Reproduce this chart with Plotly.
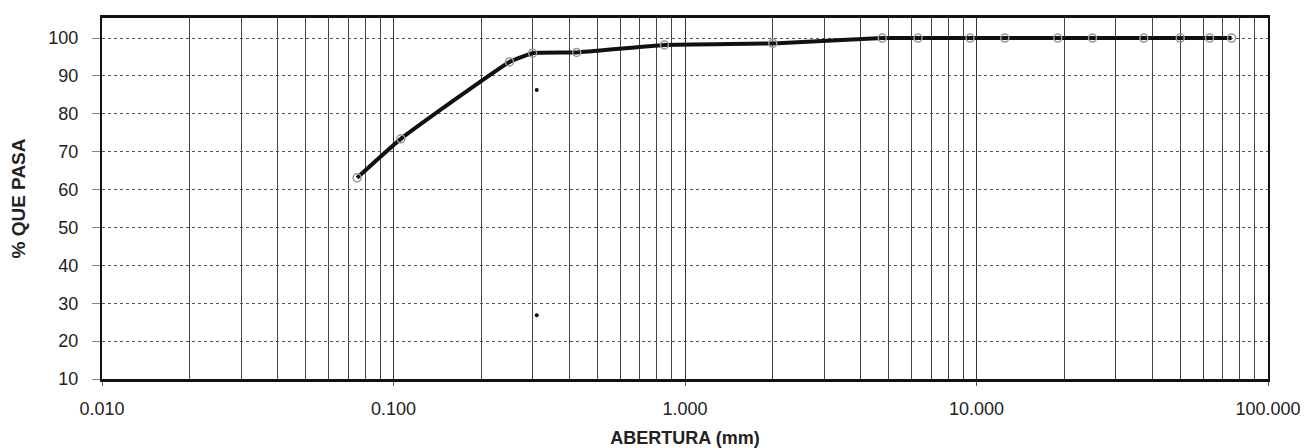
import plotly.graph_objects as go

# Data: sieve openings (mm) and percent passing
abertura = [0.075, 0.106, 0.25, 0.30, 0.425, 0.85, 2.0, 4.75, 6.3, 9.5, 12.5, 19.0, 25.0, 37.5, 50.0, 63.0, 75.0]
pct_pasa = [63.1, 73.4, 93.7, 96.0, 96.2, 98.2, 98.6, 100, 100, 100, 100, 100, 100, 100, 100, 100, 100]

# stray dots on the chart
dots_x = [0.31, 0.31]
dots_y = [86.3, 26.8]

x_ticks = [0.01, 0.1, 1, 10, 100]
x_ticklabels = ["0.010", "0.100", "1.000", "10.000", "100.000"]
y_ticks = [10, 20, 30, 40, 50, 60, 70, 80, 90, 100]

minor_vals = [m * 10.0 ** e for e in range(-2, 2) for m in range(2, 10)]

fig = go.Figure()
fig.add_trace(go.Scatter(
    x=abertura, y=pct_pasa, mode="lines+markers",
    line=dict(color="#111111", width=4, shape="spline", smoothing=0.4),
    marker=dict(symbol="circle-open", size=8, color="#999999", line=dict(width=1.5, color="#999999")),
    showlegend=False,
))
fig.add_trace(go.Scatter(
    x=dots_x, y=dots_y, mode="markers",
    marker=dict(symbol="circle", size=4, color="#111111"),
    showlegend=False,
))

font = dict(family="Liberation Sans, Arial, sans-serif", size=18, color="#222222")

fig.update_layout(
    width=1313, height=448,
    margin=dict(l=93, r=53, t=7, b=77),
    paper_bgcolor="white", plot_bgcolor="white",
    font=font,
    xaxis=dict(
        type="log", range=[-2, 2],
        tickvals=x_ticks, ticktext=x_ticklabels,
        showgrid=True, gridcolor="#333333", gridwidth=1,
        minor=dict(tickvals=minor_vals, showgrid=True, gridcolor="#444444", gridwidth=1, ticks=""),
        showline=True, linecolor="#111111", linewidth=2.5, mirror=True,
        ticks="outside", ticklen=4, tickcolor="#555555",
        ticklabelstandoff=8,
        title=dict(text="<b>ABERTURA (mm)</b>", font=dict(size=18), standoff=14),
        zeroline=False,
    ),
    yaxis=dict(
        range=[10, 105.3],
        tickvals=y_ticks,
        showgrid=True, gridcolor="#555555", gridwidth=1, griddash="dot",
        showline=True, linecolor="#111111", linewidth=2, mirror=True,
        ticks="outside", ticklen=8, tickcolor="#888888",
        ticklabelstandoff=10,
        title=dict(text="<b>% QUE PASA</b>", font=dict(size=19), standoff=20),
        zeroline=False,
    ),
)

fig.write_html("out.html")
